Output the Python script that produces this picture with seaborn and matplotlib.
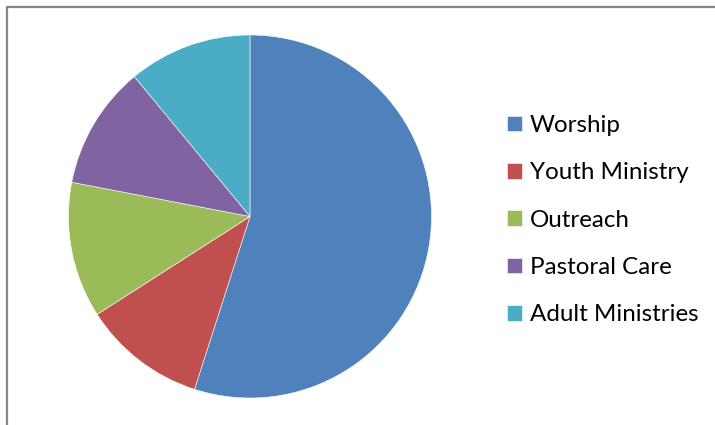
import matplotlib
matplotlib.use("Agg")
import matplotlib.pyplot as plt
import seaborn as sns
from matplotlib.patches import Rectangle

categories = ["Worship", "Youth Ministry", "Outreach", "Pastoral Care", "Adult Ministries"]
values = [50000, 10000, 11000, 10000, 10000]
colors = ["#4F81BD", "#C0504D", "#9BBB59", "#8064A2", "#4BACC6"]

sns.set_style("white")
plt.rcParams['font.family'] = ['Lato', 'DejaVu Sans']

W, H = 715, 425
fig = plt.figure(figsize=(W / 100, H / 100), dpi=100)

# chart frame (partly cropped)
fig.patches.append(Rectangle((6.5 / W, -0.1), 1.2, (H - 6.5) / H + 0.1,
                             transform=fig.transFigure, fill=False,
                             edgecolor="#868686", linewidth=1.6))

cx, cy, r = 250, 216.5, 181.5
ax = fig.add_axes([(cx - r) / W, (H - cy - r) / H, 2 * r / W, 2 * r / H])
wedges, _ = ax.pie(values, colors=colors, startangle=90, counterclock=False,
                   radius=1.0, wedgeprops=dict(edgecolor="white", linewidth=0.4))
ax.set_xlim(-1, 1)
ax.set_ylim(-1, 1)
ax.set_aspect("equal")
ax.axis("off")

leg = fig.legend(wedges, categories, loc="upper left",
                 bbox_to_anchor=(507 / W, 1 - 115 / H), frameon=False,
                 fontsize=17.4, handlelength=0.62, handleheight=0.62,
                 handletextpad=0.33, labelspacing=1.09, borderpad=0, borderaxespad=0)
for t in leg.get_texts():
    t.set_color("#000000")

fig.savefig("out.png", dpi=100)
